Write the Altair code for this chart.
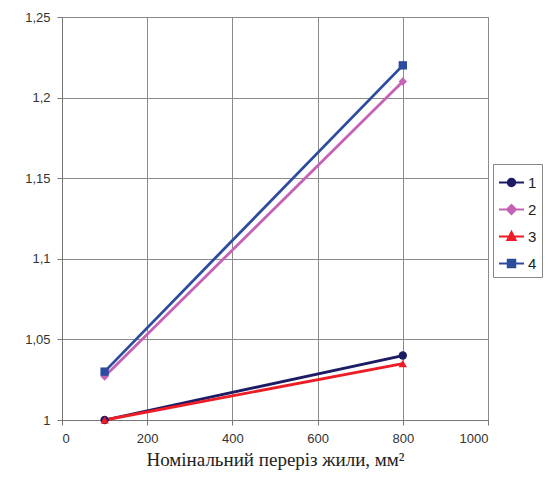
import altair as alt
import pandas as pd

series = ["1", "2", "3", "4"]
x_vals = [100, 800]
y1 = [1.0, 1.04]
y2 = [1.027, 1.21]
y3 = [1.0, 1.035]
y4 = [1.03, 1.22]
colors = ["#1c1c64", "#c562b5", "#ee1c25", "#2d4c9e"]
marker_shapes = ["circle", "diamond", "triangle-up", "square"]

rows = []
for s, ys in zip(series, [y1, y2, y3, y4]):
    for x, y in zip(x_vals, ys):
        rows.append({"series": s, "x": x, "y": y})
df = pd.DataFrame(rows)

r = 0.3
legend_paths = [
    f"M-1,0H1M-{r},0A{r},{r} 0 1,0 {r},0A{r},{r} 0 1,0 -{r},0Z",
    f"M-1,0H1M0,-{r*1.2}L{r*1.2},0L0,{r*1.2}L-{r*1.2},0Z",
    f"M-1,0H1M0,-{r*1.2}L{r*1.1},{r*0.9}L-{r*1.1},{r*0.9}Z",
    f"M-1,0H1M-{r},-{r}H{r}V{r}H-{r}Z",
]

x_enc = alt.X("x:Q", scale=alt.Scale(domain=[0, 1000]),
              axis=alt.Axis(values=[0, 200, 400, 600, 800, 1000], format="d",
                            title="Номінальний переріз жили, мм²"))
y_enc = alt.Y("y:Q", scale=alt.Scale(domain=[1.0, 1.25]),
              axis=alt.Axis(values=[1.0, 1.05, 1.1, 1.15, 1.2, 1.25], title=None,
                            labelExpr="replace(format(datum.value, '.2~f'), '.', ',')"))

color_scale = alt.Scale(domain=series, range=colors)

lines = alt.Chart(df).mark_line(strokeWidth=2.8).encode(
    x=x_enc, y=y_enc,
    color=alt.Color("series:N", scale=color_scale, legend=None),
)

point_layers = []
for s, c, shp in zip(series, colors, marker_shapes):
    point_layers.append(
        alt.Chart(df).transform_filter(alt.datum.series == s)
        .mark_point(filled=True, size=70, opacity=1, shape=shp, color=c)
        .encode(x=x_enc, y=y_enc)
    )

legend_def = alt.Legend(title=None, orient="none", legendX=431, legendY=147,
                        strokeColor="#888", padding=5, symbolSize=625,
                        symbolStrokeWidth=2, labelFontSize=15,
                        labelFont="Liberation Sans", labelColor="#222",
                        rowPadding=5, labelOffset=3, symbolOpacity=1)

leg = alt.Chart(df).mark_point(filled=True, size=1).encode(
    x=x_enc, y=y_enc,
    fill=alt.Fill("series:N", scale=alt.Scale(domain=series, range=colors), legend=legend_def),
    stroke=alt.Stroke("series:N", scale=alt.Scale(domain=series, range=colors), legend=legend_def),
    shape=alt.Shape("series:N", scale=alt.Scale(domain=series, range=legend_paths), legend=legend_def),
)

chart = alt.layer(leg, lines, *point_layers).properties(
    width=426, height=403,
    autosize=alt.AutoSizeParams(type="none"),
    padding={"left": 54, "top": 9, "right": 57, "bottom": 61},
    background="white",
).configure_view(stroke="#888", strokeWidth=1).configure_axis(
    gridColor="#8a8a8a", gridWidth=1, domainColor="#777", tickColor="#777",
    tickSize=5, labelFont="Liberation Sans", labelFontSize=13, labelColor="#333",
    titleFont="Liberation Serif", titleFontSize=19, titleFontWeight="normal",
    titleColor="#222", labelPadding=7,
).configure_axisX(titlePadding=5)

chart.save("out.html", embed_options={"renderer": "svg", "actions": False})
